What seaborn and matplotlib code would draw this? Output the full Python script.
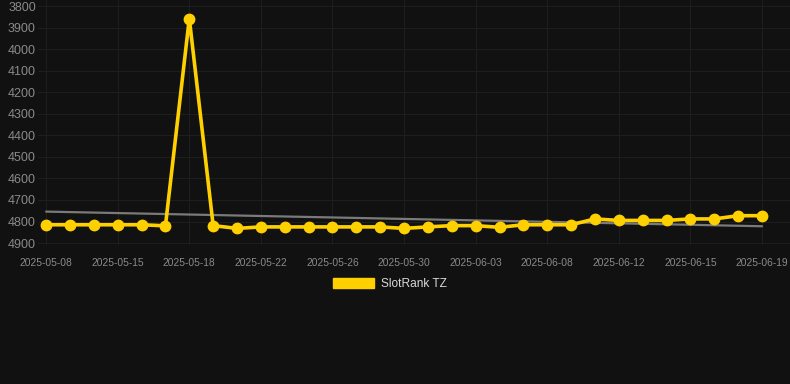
import matplotlib
matplotlib.use("Agg")
import matplotlib.pyplot as plt
import matplotlib.patches as mpatches
import seaborn as sns
import pandas as pd

# Data
dates = ["2025-05-08", "2025-05-10", "2025-05-12", "2025-05-15", "2025-05-16",
         "2025-05-17", "2025-05-18", "2025-05-19", "2025-05-20", "2025-05-22",
         "2025-05-23", "2025-05-24", "2025-05-26", "2025-05-27", "2025-05-28",
         "2025-05-30", "2025-05-31", "2025-06-01", "2025-06-03", "2025-06-05",
         "2025-06-06", "2025-06-08", "2025-06-09", "2025-06-10", "2025-06-12",
         "2025-06-13", "2025-06-14", "2025-06-15", "2025-06-17", "2025-06-18",
         "2025-06-19"]
rank = [4815, 4815, 4815, 4815, 4815, 4820, 3858, 4819, 4832, 4825,
        4825, 4825, 4825, 4825, 4825, 4832, 4825, 4819, 4819, 4827,
        4815, 4815, 4815, 4788, 4795, 4795, 4795, 4788, 4788, 4773,
        4773]
trend_ends = [4754, 4822]
series_name = "SlotRank TZ"

BG = "#111111"
GOLD = "#FFD000"
TICK = "#8a8a8a"

sns.set_theme(style="dark")
plt.rcParams["font.family"] = ["Liberation Sans", "DejaVu Sans"]

df = pd.DataFrame({"pos": range(len(dates)), "rank": rank})
trend = pd.DataFrame({"pos": [0, len(dates) - 1], "rank": trend_ends})

fig = plt.figure(figsize=(7.9, 3.84), dpi=100, facecolor=BG)
ax = fig.add_axes([38 / 790, (384 - 245) / 384, 752 / 790, 245 / 384])
ax.set_facecolor(BG)

sns.lineplot(data=trend, x="pos", y="rank", ax=ax, color="#7a7a7a",
             linewidth=1.6, zorder=2)
sns.lineplot(data=df, x="pos", y="rank", ax=ax, color=GOLD, linewidth=2.6,
             marker="o", markersize=8.5, markeredgewidth=0,
             solid_joinstyle="miter", zorder=3)

ax.set_xlim(-0.34, 31.17)
ax.set_ylim(4909, 3772)
ax.set_yticks(range(3800, 5000, 100))
ax.set_xticks(range(0, len(dates), 3))
ax.set_xticklabels([dates[i] for i in range(0, len(dates), 3)])
ax.tick_params(axis="y", colors=TICK, labelsize=9, length=0, pad=1.5)
ax.tick_params(axis="x", colors=TICK, labelsize=7.4, length=0, pad=9)
ax.grid(True, color="#1e1e1e", linewidth=0.8)
ax.set_xlabel("")
ax.set_ylabel("")
for s in ax.spines.values():
    s.set_visible(False)

handle = mpatches.Patch(color=GOLD, label=series_name)
leg = fig.legend(handles=[handle], loc="center", bbox_to_anchor=(390 / 790, 1 - 284 / 384),
                 frameon=False, fontsize=8.6, handlelength=3.4, handleheight=1.0,
                 handletextpad=0.55)
for t in leg.get_texts():
    t.set_color("#d8d8d8")

fig.savefig("out.png", facecolor=BG)
